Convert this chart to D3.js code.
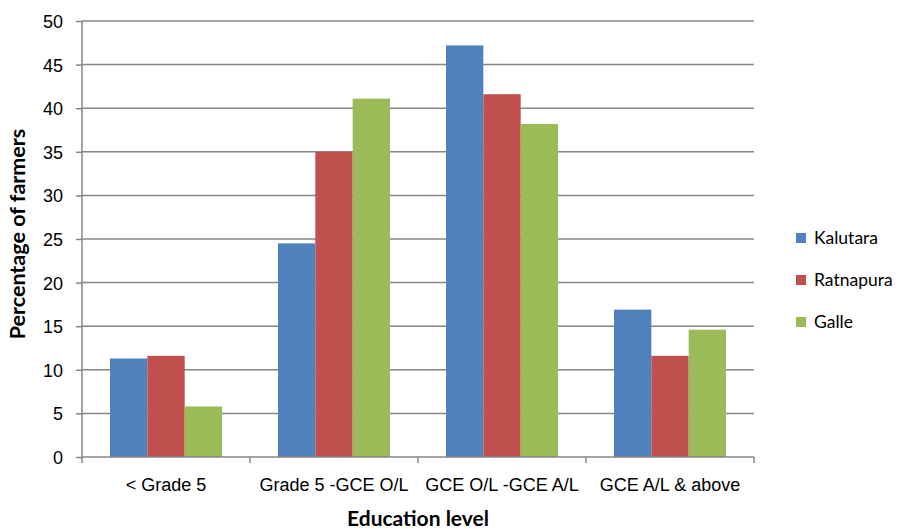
<!DOCTYPE html>
<html>
<head>
<meta charset="utf-8">
<script src="https://cdn.jsdelivr.net/npm/d3@7"></script>
<style>
  html, body { margin: 0; padding: 0; background: #fff; }
  svg { display: block; font-family: Lato, "Open Sans", sans-serif; }
</style>
</head>
<body>
<svg id="chart" width="905" height="529"></svg>
<script>
// Education level of farmers by district (%)
const categories = ["< Grade 5", "Grade 5 -GCE O/L", "GCE O/L -GCE A/L", "GCE A/L & above"];
const seriesNames = ["Kalutara", "Ratnapura", "Galle"];
const kalutara = [11.3, 24.5, 47.2, 16.9];
const ratnapura = [11.6, 35.0, 41.6, 11.6];
const galle = [5.8, 41.1, 38.2, 14.6];
const seriesColors = ["#4f81bd", "#c0504d", "#9bbb59"];
const yTicks = [0, 5, 10, 15, 20, 25, 30, 35, 40, 45, 50];

const seriesValues = [kalutara, ratnapura, galle];

const svg = d3.select("#chart");
const margin = { left: 82, right: 151, top: 21, bottom: 72 };
const width = 905 - margin.left - margin.right;
const height = 529 - margin.top - margin.bottom;

const g = svg.append("g").attr("transform", `translate(${margin.left},${margin.top})`);

const x0 = d3.scaleBand().domain(categories).range([0, width]).paddingInner(0).paddingOuter(0);
// bars fill 3 / 4.5 of each category slot (gap width 150%)
const groupW = x0.bandwidth() * 3 / 4.5;
const x1 = d3.scaleBand().domain(seriesNames).range([0, groupW]);
const y = d3.scaleLinear().domain([0, 50]).range([height, 0]);

const gridColor = "#868686";

// horizontal gridlines
g.append("g").selectAll("line").data(yTicks.filter(t => t > 0)).join("line")
  .attr("x1", 0).attr("x2", width)
  .attr("y1", d => y(d)).attr("y2", d => y(d))
  .attr("stroke", gridColor).attr("stroke-width", 1.5);

// bars
const groups = g.append("g").selectAll("g").data(categories).join("g")
  .attr("transform", d => `translate(${x0(d) + (x0.bandwidth() - groupW) / 2},0)`);
groups.selectAll("rect")
  .data((c, i) => seriesNames.map((s, j) => ({ s, v: seriesValues[j][i], color: seriesColors[j] })))
  .join("rect")
  .attr("x", d => x1(d.s))
  .attr("width", x1.bandwidth())
  .attr("y", d => y(d.v))
  .attr("height", d => y(0) - y(d.v))
  .attr("fill", d => d.color);

// y axis
const yAxis = g.append("g")
  .call(d3.axisLeft(y).tickValues(yTicks).tickSize(6).tickPadding(13).tickFormat(d3.format("d")));
yAxis.select(".domain").attr("stroke", gridColor).attr("stroke-width", 1.5).attr("d", `M0,${height}V0`);
yAxis.selectAll(".tick line").attr("stroke", gridColor).attr("stroke-width", 1.5);
yAxis.selectAll(".tick text").attr("fill", "#000").style("font-size", "18px").attr("dy", "0.36em");

// x axis
const xAxis = g.append("g").attr("transform", `translate(0,${height})`)
  .call(d3.axisBottom(x0).tickSize(0).tickPadding(21));
xAxis.select(".domain").attr("stroke", gridColor).attr("stroke-width", 1.5).attr("d", `M0,0H${width}`);
xAxis.selectAll(".tick text").attr("fill", "#000").style("font-size", "18px");
// category boundary ticks
xAxis.append("g").selectAll("line").data(d3.range(categories.length + 1)).join("line")
  .attr("x1", i => i * x0.bandwidth()).attr("x2", i => i * x0.bandwidth())
  .attr("y1", 0).attr("y2", 6)
  .attr("stroke", gridColor).attr("stroke-width", 1.5);

// axis titles
svg.append("text")
  .attr("x", margin.left + width / 2).attr("y", 526)
  .attr("text-anchor", "middle")
  .style("font-size", "21px").style("font-weight", "bold")
  .text("Education level");
svg.append("text")
  .attr("transform", `translate(25,${margin.top + height / 2 - 5}) rotate(-90)`)
  .attr("text-anchor", "middle")
  .style("font-size", "21.5px").style("font-weight", "bold")
  .text("Percentage of farmers");

// legend
const legend = svg.append("g").attr("transform", "translate(796,238)");
const items = legend.selectAll("g").data(seriesNames).join("g")
  .attr("transform", (d, i) => `translate(0,${i * 42})`);
items.append("rect").attr("x", 0).attr("y", -5).attr("width", 10).attr("height", 10)
  .attr("fill", (d, i) => seriesColors[i]);
items.append("text").attr("x", 18).attr("y", 0).attr("dy", "0.36em")
  .style("font-size", "17.5px").text(d => d);
</script>
</body>
</html>
